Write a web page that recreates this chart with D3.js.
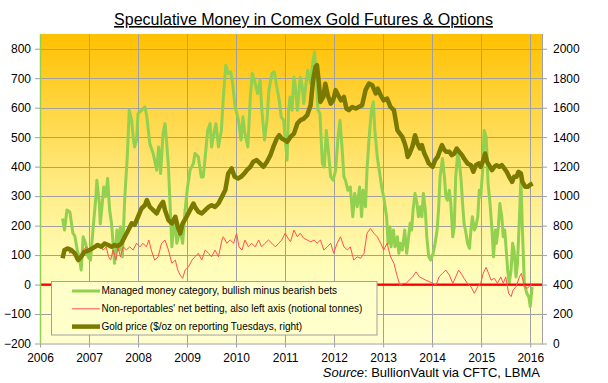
<!DOCTYPE html>
<html>
<head>
<meta charset="utf-8">
<script src="https://cdn.jsdelivr.net/npm/d3@7"></script>
<style>
  html, body { margin: 0; padding: 0; background: #ffffff; }
  svg { display: block; }
  text { font-family: "Liberation Sans", Arial, sans-serif; }
</style>
</head>
<body>
<svg id="chart" width="608" height="383"></svg>
<script>
// ---------------- DATA ----------------
const years = [2006, 2007, 2008, 2009, 2010, 2011, 2012, 2013, 2014, 2015, 2016];
const leftTicks = [-200, -100, 0, 100, 200, 300, 400, 500, 600, 700, 800];
const rightTicks = [0, 200, 400, 600, 800, 1000, 1200, 1400, 1600, 1800, 2000];

const titleText = "Speculative Money in Comex Gold Futures & Options";
const legendLabels = [
  "Managed money category, bullish minus bearish bets",
  "Non-reportables' net betting, also left axis (notional tonnes)",
  "Gold price ($/oz on reporting Tuesdays, right)"
];

// Managed money net (tonnes, left axis) : [decimal year, value]
const managedMoney = [
  [2006.46,224],[2006.50,185],[2006.55,253],[2006.61,246],[2006.67,175],[2006.71,165],[2006.76,117],[2006.80,94],
  [2006.84,49],[2006.88,162],[2006.93,140],[2006.98,94],[2007.03,83],[2007.08,185],[2007.14,298],[2007.16,354],
  [2007.21,275],[2007.23,206],[2007.27,275],[2007.30,331],[2007.34,298],[2007.38,360],[2007.42,253],[2007.46,206],
  [2007.49,140],[2007.52,72],[2007.57,185],[2007.61,117],[2007.64,196],[2007.68,94],[2007.73,298],[2007.78,433],
  [2007.82,591],[2007.87,557],[2007.90,501],[2007.93,467],[2007.97,490],[2008.00,580],[2008.07,591],[2008.14,603],
  [2008.18,569],[2008.24,478],[2008.31,444],[2008.38,388],[2008.42,467],[2008.46,377],[2008.51,512],[2008.55,546],
  [2008.58,490],[2008.62,400],[2008.69,128],[2008.74,229],[2008.79,140],[2008.86,185],[2008.91,140],[2008.96,253],
  [2009.01,331],[2009.06,388],[2009.13,411],[2009.16,445],[2009.23,433],[2009.29,365],[2009.33,365],[2009.37,433],
  [2009.42,523],[2009.47,546],[2009.50,467],[2009.56,523],[2009.59,546],[2009.64,467],[2009.70,523],[2009.74,636],
  [2009.79,744],[2009.84,716],[2009.89,722],[2009.93,682],[2009.98,603],[2010.05,557],[2010.10,490],[2010.14,569],
  [2010.18,512],[2010.24,467],[2010.29,636],[2010.33,716],[2010.39,682],[2010.44,648],[2010.49,693],[2010.52,603],
  [2010.58,490],[2010.63,557],[2010.67,659],[2010.73,716],[2010.78,722],[2010.83,671],[2010.88,625],[2010.92,569],
  [2010.97,557],[2011.01,478],[2011.04,422],[2011.07,590],[2011.10,636],[2011.14,591],[2011.18,704],[2011.21,671],
  [2011.25,591],[2011.28,648],[2011.31,704],[2011.35,671],[2011.38,614],[2011.42,671],[2011.46,727],[2011.52,682],
  [2011.55,738],[2011.60,789],[2011.64,704],[2011.67,591],[2011.71,580],[2011.76,411],[2011.80,399],[2011.84,523],
  [2011.88,456],[2011.93,365],[2011.98,354],[2012.03,388],[2012.08,501],[2012.12,557],[2012.16,467],[2012.20,365],
  [2012.23,354],[2012.28,320],[2012.33,331],[2012.38,230],[2012.42,309],[2012.47,264],[2012.52,331],[2012.56,230],
  [2012.59,320],[2012.64,264],[2012.67,388],[2012.71,490],[2012.76,591],[2012.80,620],[2012.83,523],[2012.88,433],
  [2012.93,377],[2012.97,331],[2013.01,298],[2013.07,230],[2013.10,140],[2013.14,196],[2013.16,128],[2013.21,185],
  [2013.24,128],[2013.29,162],[2013.32,106],[2013.35,140],[2013.39,117],[2013.44,185],[2013.48,106],[2013.52,162],
  [2013.55,208],[2013.58,185],[2013.61,253],[2013.65,309],[2013.69,275],[2013.72,230],[2013.76,264],[2013.79,230],
  [2013.82,309],[2013.86,253],[2013.89,162],[2013.93,94],[2013.97,83],[2014.02,106],[2014.06,140],[2014.10,185],
  [2014.13,253],[2014.16,365],[2014.21,428],[2014.25,365],[2014.28,298],[2014.31,286],[2014.35,320],[2014.38,275],
  [2014.42,162],[2014.45,196],[2014.48,365],[2014.52,445],[2014.55,422],[2014.59,354],[2014.62,275],[2014.65,208],
  [2014.69,174],[2014.72,140],[2014.76,123],[2014.79,185],[2014.82,230],[2014.86,185],[2014.89,196],[2014.93,230],
  [2014.96,320],[2014.99,298],[2015.03,388],[2015.06,523],[2015.10,501],[2015.12,433],[2015.14,343],[2015.18,275],
  [2015.22,185],[2015.25,94],[2015.29,185],[2015.31,140],[2015.35,196],[2015.38,275],[2015.42,230],[2015.45,162],
  [2015.48,185],[2015.50,140],[2015.54,49],[2015.57,4],[2015.61,49],[2015.64,140],[2015.67,117],[2015.71,26],
  [2015.74,72],[2015.78,230],[2015.81,360],[2015.84,185],[2015.88,4],[2015.93,-30],[2015.97,-41],[2016.00,-75],
  [2016.04,-7]
];

// Non-reportables net (tonnes, left axis)
const nonReportables = [
  [2006.46,117],[2006.54,128],[2006.61,106],[2006.67,117],[2006.74,83],[2006.81,94],[2006.88,117],[2006.95,128],
  [2007.01,117],[2007.08,128],[2007.15,140],[2007.22,128],[2007.29,117],[2007.35,128],[2007.40,94],[2007.44,83],
  [2007.49,117],[2007.55,83],[2007.59,128],[2007.64,94],[2007.70,128],[2007.76,117],[2007.83,128],[2007.90,117],
  [2007.97,140],[2008.04,128],[2008.10,140],[2008.17,128],[2008.22,151],[2008.27,117],[2008.34,83],[2008.41,94],
  [2008.48,140],[2008.55,151],[2008.62,117],[2008.69,72],[2008.76,83],[2008.81,49],[2008.86,32],[2008.91,21],
  [2008.96,49],[2009.03,60],[2009.10,83],[2009.16,94],[2009.23,106],[2009.30,83],[2009.37,117],[2009.44,106],
  [2009.50,94],[2009.57,117],[2009.64,94],[2009.71,151],[2009.74,162],[2009.81,140],[2009.88,151],[2009.95,140],
  [2010.01,174],[2010.06,128],[2010.12,117],[2010.18,151],[2010.25,128],[2010.32,140],[2010.39,128],[2010.46,151],
  [2010.52,128],[2010.59,140],[2010.66,151],[2010.73,140],[2010.80,128],[2010.87,140],[2010.93,151],[2011.00,174],
  [2011.04,162],[2011.11,145],[2011.18,185],[2011.25,162],[2011.31,174],[2011.38,157],[2011.45,151],[2011.52,145],
  [2011.59,151],[2011.65,140],[2011.72,151],[2011.79,117],[2011.86,128],[2011.93,140],[2011.99,106],[2012.06,140],
  [2012.13,162],[2012.20,128],[2012.27,117],[2012.33,128],[2012.40,83],[2012.47,94],[2012.54,89],[2012.61,106],
  [2012.67,174],[2012.74,190],[2012.81,174],[2012.88,162],[2012.95,140],[2013.01,117],[2013.08,140],[2013.15,94],
  [2013.22,72],[2013.29,26],[2013.34,-2],[2013.42,4],[2013.47,4],[2013.53,15],[2013.60,26],[2013.67,43],
  [2013.74,26],[2013.80,21],[2013.87,15],[2013.94,10],[2014.01,4],[2014.08,-2],[2014.14,26],[2014.21,38],
  [2014.28,49],[2014.35,32],[2014.42,4],[2014.48,26],[2014.54,49],[2014.59,38],[2014.65,21],[2014.72,4],
  [2014.79,-7],[2014.86,-30],[2014.93,-7],[2014.99,4],[2015.04,38],[2015.10,58],[2015.15,38],[2015.20,15],
  [2015.27,21],[2015.33,4],[2015.40,26],[2015.45,4],[2015.50,26],[2015.56,-30],[2015.61,-41],[2015.65,-19],
  [2015.71,-7],[2015.78,26],[2015.82,38],[2015.88,-7],[2015.93,-13],[2015.98,-7],[2016.04,4]
];

// Gold price ($/oz, right axis)
const goldPrice = [
  [2006.46,578],[2006.50,634],[2006.57,645],[2006.64,634],[2006.71,611],[2006.78,566],[2006.84,589],[2006.91,622],
  [2007.01,634],[2007.12,656],[2007.18,668],[2007.25,656],[2007.32,679],[2007.39,668],[2007.46,656],[2007.52,668],
  [2007.59,661],[2007.66,679],[2007.73,724],[2007.80,769],[2007.87,815],[2007.93,805],[2008.00,860],[2008.07,916],
  [2008.14,938],[2008.18,973],[2008.24,927],[2008.31,905],[2008.38,882],[2008.44,927],[2008.51,961],[2008.55,905],
  [2008.62,837],[2008.69,815],[2008.76,860],[2008.81,792],[2008.86,747],[2008.91,815],[2008.95,837],[2008.99,860],
  [2009.06,905],[2009.13,950],[2009.16,927],[2009.23,894],[2009.30,882],[2009.37,905],[2009.44,927],[2009.50,938],
  [2009.57,927],[2009.64,950],[2009.71,995],[2009.78,1041],[2009.84,1154],[2009.91,1188],[2009.97,1131],[2010.04,1120],
  [2010.10,1131],[2010.17,1154],[2010.22,1176],[2010.29,1199],[2010.35,1233],[2010.42,1244],[2010.49,1222],[2010.56,1199],
  [2010.63,1233],[2010.70,1278],[2010.76,1334],[2010.83,1391],[2010.88,1413],[2010.93,1391],[2011.00,1379],[2011.04,1368],
  [2011.11,1402],[2011.18,1424],[2011.25,1493],[2011.31,1515],[2011.38,1526],[2011.45,1549],[2011.52,1617],[2011.57,1786],
  [2011.62,1877],[2011.65,1888],[2011.69,1763],[2011.72,1639],[2011.78,1673],[2011.82,1763],[2011.87,1684],[2011.93,1628],
  [2011.98,1650],[2012.03,1719],[2012.10,1673],[2012.14,1650],[2012.20,1673],[2012.25,1594],[2012.30,1583],[2012.37,1605],
  [2012.44,1594],[2012.50,1605],[2012.57,1617],[2012.64,1719],[2012.71,1764],[2012.78,1752],[2012.85,1696],[2012.89,1730],
  [2012.95,1684],[2013.01,1650],[2013.08,1662],[2013.15,1605],[2013.22,1583],[2013.29,1447],[2013.34,1424],[2013.39,1402],
  [2013.44,1357],[2013.47,1320],[2013.50,1266],[2013.54,1289],[2013.60,1340],[2013.65,1413],[2013.70,1357],[2013.75,1323],
  [2013.79,1346],[2013.84,1289],[2013.89,1255],[2013.93,1222],[2014.01,1199],[2014.06,1244],[2014.11,1266],[2014.16,1312],
  [2014.20,1346],[2014.25,1312],[2014.29,1301],[2014.35,1301],[2014.40,1278],[2014.45,1289],[2014.50,1323],[2014.55,1301],
  [2014.61,1278],[2014.65,1255],[2014.72,1222],[2014.79,1210],[2014.84,1165],[2014.89,1210],[2014.95,1222],[2014.99,1199],
  [2015.04,1244],[2015.08,1289],[2015.12,1233],[2015.16,1210],[2015.22,1176],[2015.27,1199],[2015.31,1210],[2015.37,1199],
  [2015.42,1210],[2015.47,1188],[2015.52,1165],[2015.57,1131],[2015.63,1097],[2015.67,1131],[2015.72,1131],[2015.76,1165],
  [2015.81,1154],[2015.84,1097],[2015.90,1063],[2015.95,1063],[2015.99,1075],[2016.05,1086]
];

// ---------------- LAYOUT ----------------
const W = 608, H = 383;
const plot = { left: 40, right: 542, top: 34, bottom: 343.5 };

const svg = d3.select("#chart");

const x = d3.scaleLinear().domain([2006, 2016.24]).range([plot.left, plot.right]);
const yL = d3.scaleLinear().domain([-200, 850]).range([plot.bottom, plot.top]);
const yR = d3.scaleLinear().domain([0, 2100]).range([plot.bottom, plot.top]);

// gradient
const defs = svg.append("defs");
const grad = defs.append("linearGradient").attr("id", "bg").attr("x1", 0).attr("y1", 0).attr("x2", 0).attr("y2", 1);
grad.append("stop").attr("offset", "0%").attr("stop-color", "#FFC000");
grad.append("stop").attr("offset", "45%").attr("stop-color", "#FFE87A");
grad.append("stop").attr("offset", "75%").attr("stop-color", "#FFFDB8");
grad.append("stop").attr("offset", "100%").attr("stop-color", "#FFFFD2");

defs.append("clipPath").attr("id", "clip").append("rect")
  .attr("x", plot.left).attr("y", plot.top)
  .attr("width", plot.right - plot.left).attr("height", plot.bottom - plot.top);

svg.append("rect").attr("x", plot.left).attr("y", plot.top)
  .attr("width", plot.right - plot.left).attr("height", plot.bottom - plot.top)
  .attr("fill", "url(#bg)");

// gridlines
const grid = svg.append("g").attr("stroke", "#A0A0A0").attr("stroke-width", 1);
leftTicks.filter(d => d > -200).forEach(d => {
  const yy = Math.round(yL(d)) + 0.5;
  grid.append("line").attr("x1", plot.left).attr("x2", plot.right).attr("y1", yy).attr("y2", yy);
});
years.filter(d => d > 2006).forEach(d => {
  const xx = Math.round(x(d)) + 0.5;
  grid.append("line").attr("x1", xx).attr("x2", xx).attr("y1", plot.top).attr("y2", plot.bottom);
});

// series
const series = svg.append("g").attr("clip-path", "url(#clip)");
const lineL = d3.line().x(d => x(d[0])).y(d => yL(d[1]));
const lineR = d3.line().x(d => x(d[0])).y(d => yR(d[1]));

series.append("path").datum(managedMoney).attr("d", lineL)
  .attr("fill", "none").attr("stroke", "#92D050").attr("stroke-width", 3).attr("stroke-linejoin", "round");

// zero line
series.append("line").attr("x1", plot.left).attr("x2", plot.right)
  .attr("y1", yL(0)).attr("y2", yL(0)).attr("stroke", "#FF0000").attr("stroke-width", 2.2);

series.append("path").datum(nonReportables).attr("d", lineL)
  .attr("fill", "none").attr("stroke", "#FF5050").attr("stroke-width", 1).attr("stroke-linejoin", "round");

series.append("path").datum(goldPrice).attr("d", lineR)
  .attr("fill", "none").attr("stroke", "#7A7A00").attr("stroke-width", 4.5).attr("stroke-linejoin", "round");

// legend
const lg = svg.append("g");
lg.append("rect").attr("x", 51.5).attr("y", 281.5).attr("width", 325.5).attr("height", 53.5)
  .attr("fill", "#FFFFCC").attr("stroke", "#A0A0A0").attr("stroke-width", 1);
const legendStyles = [
  { color: "#92D050", w: 3 },
  { color: "#FF5050", w: 1 },
  { color: "#7A7A00", w: 4.5 }
];
legendLabels.forEach((lab, i) => {
  const cy = 291 + i * 17.8;
  lg.append("line").attr("x1", 72).attr("x2", 100).attr("y1", cy).attr("y2", cy)
    .attr("stroke", legendStyles[i].color).attr("stroke-width", legendStyles[i].w);
  lg.append("text").attr("x", 101.5).attr("y", cy + 3.3).attr("font-size", "10px")
    .attr("fill", "#000").text(lab);
});

// axes
const axL = svg.append("g").attr("transform", `translate(${plot.left},0)`)
  .call(d3.axisLeft(yL).tickValues(leftTicks).tickSize(5).tickPadding(4).tickFormat(d3.format("d")));
axL.select(".domain").remove();
axL.selectAll(".tick line").attr("stroke", "#A0A0A0");
axL.selectAll("text").attr("font-size", "12px").attr("font-family", "Liberation Sans, Arial, sans-serif").attr("fill", "#000");
svg.append("line").attr("x1", plot.left + 0.5).attr("x2", plot.left + 0.5).attr("y1", plot.top).attr("y2", plot.bottom)
  .attr("stroke", "#92D050").attr("stroke-width", 1.5);

const axR = svg.append("g").attr("transform", `translate(${plot.right},0)`)
  .call(d3.axisRight(yR).tickValues(rightTicks).tickSize(5).tickPadding(6).tickFormat(d3.format("d")));
axR.select(".domain").remove();
axR.selectAll(".tick line").attr("stroke", "#A0A0A0");
axR.selectAll("text").attr("font-size", "12px").attr("font-family", "Liberation Sans, Arial, sans-serif").attr("fill", "#000");
svg.append("line").attr("x1", plot.right + 0.5).attr("x2", plot.right + 0.5).attr("y1", plot.top).attr("y2", plot.bottom)
  .attr("stroke", "#A0A0A0").attr("stroke-width", 1);

const axB = svg.append("g").attr("transform", `translate(0,${plot.bottom})`)
  .call(d3.axisBottom(x).tickValues(years).tickSize(4).tickPadding(6).tickFormat(d3.format("d")));
axB.select(".domain").remove();
axB.selectAll(".tick line").attr("stroke", "#A0A0A0");
axB.selectAll("text").attr("font-size", "12px").attr("font-family", "Liberation Sans, Arial, sans-serif").attr("fill", "#000");
svg.append("line").attr("x1", plot.left).attr("x2", plot.right + 1).attr("y1", plot.bottom + 0.5).attr("y2", plot.bottom + 0.5)
  .attr("stroke", "#A0A0A0").attr("stroke-width", 1);

// title
svg.append("text").attr("x", 303.5).attr("y", 25).attr("text-anchor", "middle")
  .attr("font-size", "16px").attr("fill", "#000").attr("text-decoration", "underline")
  .text(titleText);

// source
const src = svg.append("text").attr("x", 540).attr("y", 376.5).attr("text-anchor", "end")
  .attr("font-size", "13px").attr("fill", "#000");
src.append("tspan").attr("font-style", "italic").text("Source");
src.append("tspan").text(": BullionVault via CFTC, LBMA");
</script>
</body>
</html>
